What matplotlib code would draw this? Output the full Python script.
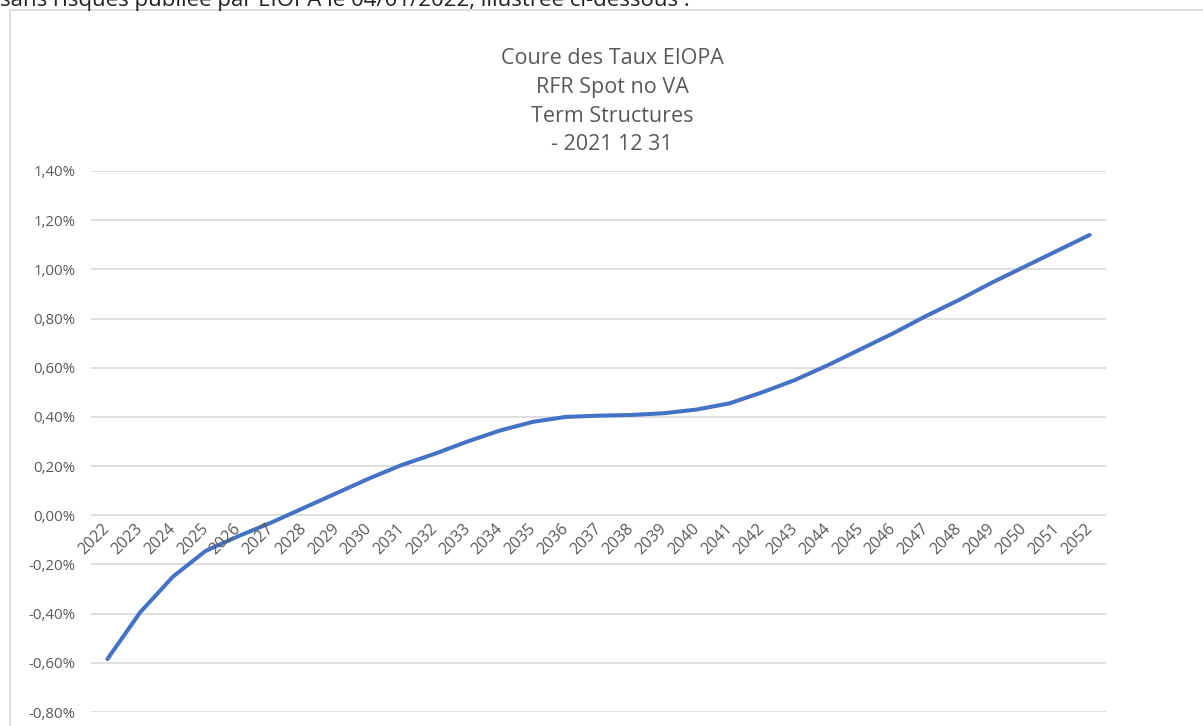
import matplotlib.pyplot as plt
from matplotlib.patches import Rectangle
from matplotlib.ticker import FuncFormatter
import matplotlib.transforms as mtransforms

# data
years = [str(y) for y in range(2022, 2053)]
rates = [-0.585, -0.395, -0.25, -0.145, -0.085, -0.03, 0.03, 0.09, 0.15, 0.205,
         0.25, 0.30, 0.345, 0.38, 0.40, 0.405, 0.408, 0.415, 0.43, 0.455,
         0.50, 0.55, 0.61, 0.675, 0.74, 0.81, 0.875, 0.945, 1.01, 1.075, 1.14]
yticks = [-0.8, -0.6, -0.4, -0.2, 0.0, 0.2, 0.4, 0.6, 0.8, 1.0, 1.2, 1.4]
title_lines = ["Coure des Taux EIOPA", "RFR Spot no VA", "Term Structures", "- 2021 12 31"]

plt.rcParams['font.family'] = ['Open Sans', 'DejaVu Sans']
W, H = 1203, 726
fig = plt.figure(figsize=(W / 100, H / 100), dpi=100)

# chart frame (cut at right and bottom)
fig.patches.append(Rectangle((10 / W, -0.1), 1.2, 1 - 9.5 / H - (-0.1),
                             transform=fig.transFigure, fill=False,
                             edgecolor='#d9d9d9', lw=1.2))

# clipped text line above the chart
fig.text(0, 1 - 6 / H, "sans risques publiée par EIOPA le 04/01/2022, illustrée ci-dessous :",
         fontsize=16, color='#222222', ha='left', va='baseline')

ax = fig.add_axes([91 / W, (H - 712) / H, (1106 - 91) / W, (712 - 171) / H])
x = list(range(len(years)))
ax.plot(x, rates, color='#4472C4', lw=2.9, solid_capstyle='round', solid_joinstyle='round')

ax.set_xlim(-0.5, len(years) - 0.5)
ax.set_ylim(-0.8, 1.4)
ax.set_yticks(yticks)
ax.yaxis.set_major_formatter(FuncFormatter(lambda v, p: f"{v:.2f}%".replace('.', ',')))
ax.tick_params(axis='y', length=0, pad=11, labelsize=10.8, labelcolor='#595959')
ax.set_xticks([])
ax.grid(axis='y', color='#d9d9d9', lw=1.2)
ax.set_axisbelow(True)
for s in ax.spines.values():
    s.set_visible(False)

# category labels along the zero line
offset = mtransforms.ScaledTranslation(6 / 100, -5 / 100, fig.dpi_scale_trans)
for i, lab in enumerate(years):
    ax.text(i, 0, lab, rotation=45, ha='right', va='top', fontsize=11.5,
            color='#595959', transform=ax.transData + offset)

# title
for k, line in enumerate(title_lines):
    fig.text(612 / W, 1 - (58 + 29 * k) / H, line, ha='center', va='center',
             fontsize=15.5, color='#595959')

fig.savefig('out.png', dpi=100)
